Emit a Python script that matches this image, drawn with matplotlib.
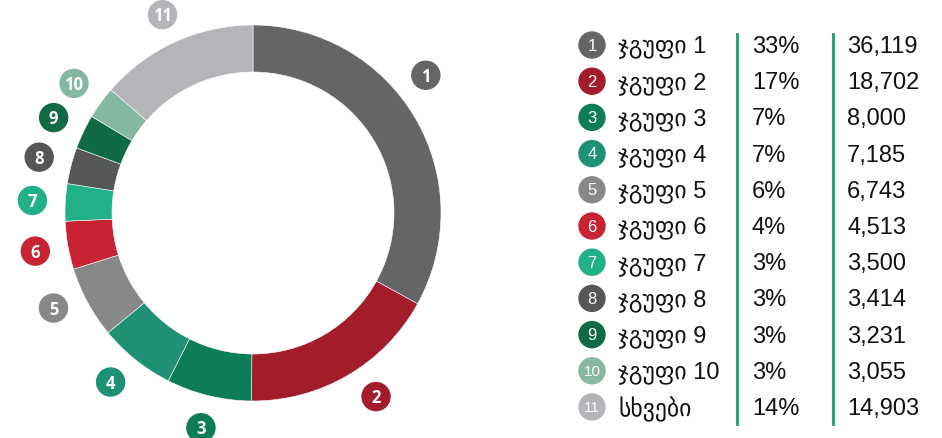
import matplotlib.pyplot as plt
from matplotlib.patches import Circle
import numpy as np

plt.rcParams['font.family'] = ['Liberation Sans', 'DejaVu Sans']

# მონაცემები
names = ['ჯგუფი 1', 'ჯგუფი 2', 'ჯგუფი 3', 'ჯგუფი 4', 'ჯგუფი 5', 'ჯგუფი 6',
         'ჯგუფი 7', 'ჯგუფი 8', 'ჯგუფი 9', 'ჯგუფი 10', 'სხვები']
values = [36119, 18702, 8000, 7185, 6743, 4513, 3500, 3414, 3231, 3055, 14903]
percents = ['33%', '17%', '7%', '7%', '6%', '4%', '3%', '3%', '3%', '3%', '14%']
colors = ['#636566', '#A21C2B', '#0C7D57', '#1E9073', '#878987', '#C82333',
          '#22B089', '#555656', '#0F6A45', '#86B7A2', '#B4B5B8']

W, H = 942, 439
fig = plt.figure(figsize=(W / 100, H / 100), dpi=100)
ax = fig.add_axes([0, 0, 1, 1])

# donut
cx, cy = 253, H - 214
R, ring = 188, 47
wedges, _ = ax.pie(values, colors=colors, startangle=90, counterclock=False,
                   radius=R, center=(cx, cy),
                   wedgeprops=dict(width=ring, edgecolor='white', linewidth=0.4))

# number badges round the ring (small hand nudges like the original)
nudge = {0: 8, 1: 3.5, 4: -3, 3: -1.5}
for i, w in enumerate(wedges):
    ang = np.deg2rad((w.theta1 + w.theta2) / 2 + nudge.get(i, 0))
    r = 218 if i == 10 else 221
    bx = cx + r * np.cos(ang)
    by = cy + r * np.sin(ang)
    ax.add_patch(Circle((bx, by), 14, color=colors[i], zorder=3))
    ax.text(bx, by - 0.5, str(i + 1), color='white', fontsize=12, fontweight='bold',
            family=['Open Sans', 'DejaVu Sans'], ha='center', va='center', zorder=4)

# legend table
y0, dy = H - 46, 36.2
for i in range(len(values)):
    y = y0 - i * dy
    ax.add_patch(Circle((592, y), 13, color=colors[i], zorder=3))
    ax.text(592, y, str(i + 1), color='white', fontsize=12 if i < 9 else 11,
            ha='center', va='center', zorder=4)
    ax.text(618, y - 1, names[i], fontsize=17, color='#111111', ha='left', va='center')
    ax.text(752, y - 1, percents[i], fontsize=17, color='#111111', ha='left', va='center')
    ax.text(847, y - 1, f'{values[i]:,}', fontsize=17, color='#111111', ha='left', va='center')

for lx in (737, 833):
    ax.plot([lx, lx], [H - 35, H - 425], color='#1E9A6A', linewidth=2)

ax.set_xlim(0, W)
ax.set_ylim(0, H)
ax.set_aspect('equal')
ax.axis('off')

fig.savefig('out.png', dpi=100)
